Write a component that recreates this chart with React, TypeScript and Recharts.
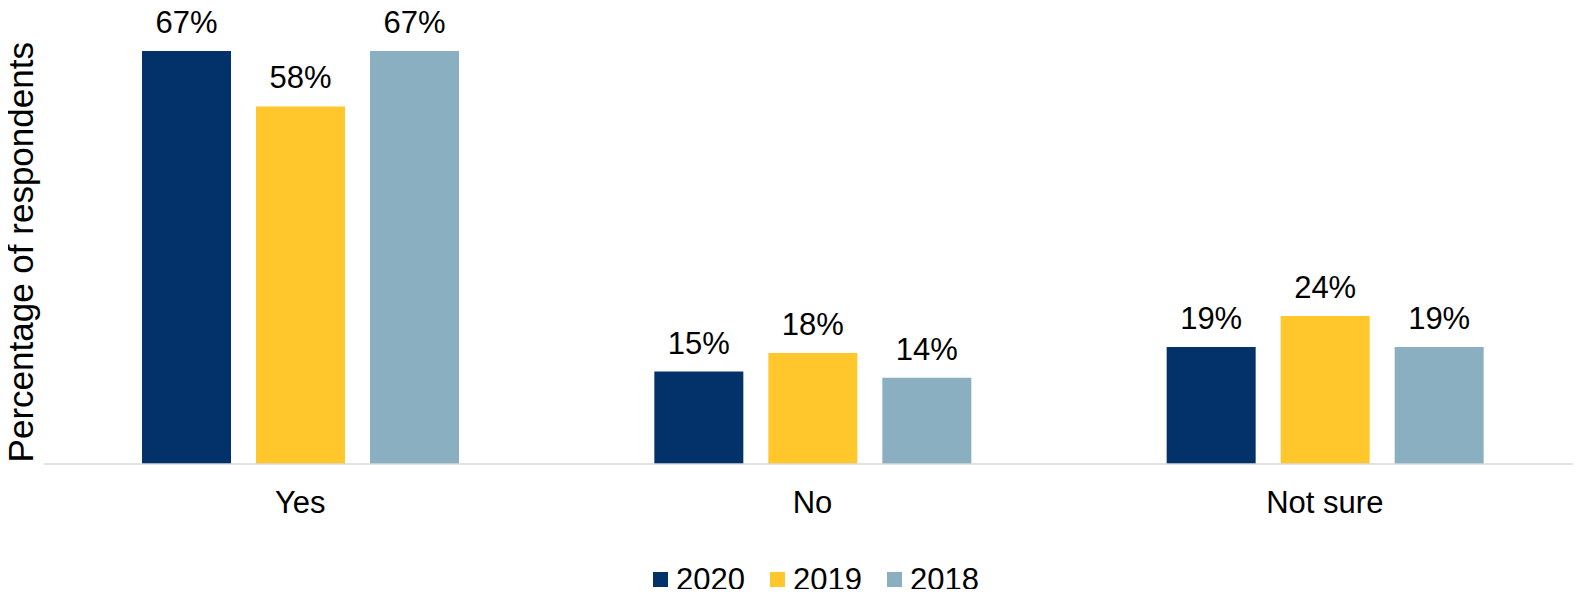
import { BarChart, Bar, XAxis, YAxis, Legend, LabelList } from "recharts";

const categories = ["Yes", "No", "Not sure"];
const series2020 = [67, 15, 19];
const series2019 = [58, 18, 24];
const series2018 = [67, 14, 19];
const years = ["2020", "2019", "2018"];

const COLORS: Record<string, string> = {
  "2020": "#03326a",
  "2019": "#ffc72c",
  "2018": "#8aafc1",
};

const FONT = "'Liberation Sans', Arial, sans-serif";

const data = categories.map((name, i) => ({
  name,
  "2020": series2020[i],
  "2019": series2019[i],
  "2018": series2018[i],
}));

function LegendBox() {
  return (
    <div
      style={{
        display: "flex",
        justifyContent: "center",
        paddingLeft: 51,
        fontFamily: FONT,
        fontSize: 31,
        lineHeight: "31px",
        color: "#000",
      }}
    >
      {years.map((y, i) => (
        <div key={y} style={{ display: "flex", alignItems: "center", marginLeft: i === 0 ? 0 : 25 }}>
          <span style={{ width: 15, height: 15, background: COLORS[y], marginRight: 8, display: "inline-block" }} />
          <span>{y}</span>
        </div>
      ))}
    </div>
  );
}

export default function App() {
  // pull the chart over the body margin so it fills the whole window
  return (
    <div style={{ width: 1581, height: 597, margin: -8 }}>
      <BarChart
        width={1581}
        height={597}
        data={data}
        margin={{ top: 32.5, right: 0, left: 0, bottom: 103 }}
        barSize={89}
        barGap={25}
      >
        <XAxis
          dataKey="name"
          height={30}
          tickLine={false}
          tickSize={0}
          tickMargin={27}
          axisLine={{ stroke: "#d9d9d9", strokeWidth: 1.5 }}
          tick={{ fill: "#000", fontSize: 31, fontFamily: FONT }}
        />
        <YAxis
          width={44}
          domain={[0, 70]}
          tick={false}
          tickLine={false}
          axisLine={false}
          label={{
            value: "Percentage of respondents",
            angle: -90,
            position: "center",
            dx: -1.5,
            dy: 4,
            fill: "#000",
            fontSize: 35,
            fontFamily: FONT,
          }}
        />
        <Legend
          layout="horizontal"
          verticalAlign="middle"
          align="center"
          wrapperStyle={{ top: 564, left: 0, width: 1581 }}
          content={() => <LegendBox />}
        />
        {years.map((y) => (
          <Bar key={y} dataKey={y} fill={COLORS[y]} isAnimationActive={false}>
            <LabelList
              dataKey={y}
              position="top"
              offset={18}
              fill="#000"
              fontSize={31}
              fontFamily={FONT}
              formatter={(v: any) => `${v}%`}
            />
          </Bar>
        ))}
      </BarChart>
    </div>
  );
}
